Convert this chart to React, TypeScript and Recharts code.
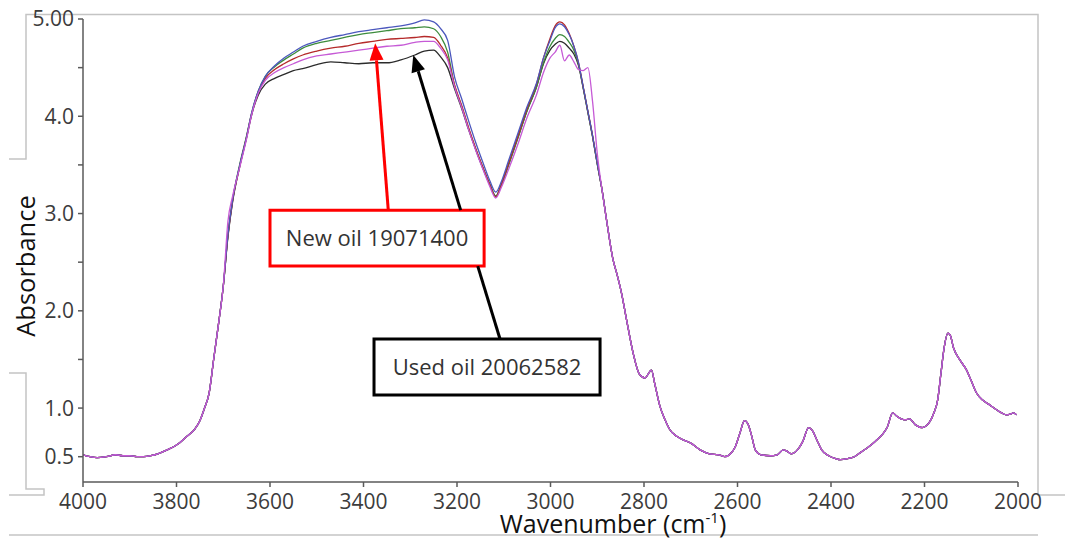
import React from 'react';
import { LineChart, Line, XAxis, YAxis, ReferenceArea, ReferenceLine } from 'recharts';

// Shared (overlapping) part on the high-wavenumber side
const wnLeft = [4000, 3985, 3970, 3950, 3930, 3915, 3900, 3885, 3870, 3855, 3840, 3820, 3800, 3780, 3760, 3750, 3740, 3730, 3720, 3710, 3700];
const absLeft = [0.52, 0.5, 0.49, 0.5, 0.52, 0.51, 0.51, 0.5, 0.5, 0.51, 0.53, 0.57, 0.62, 0.7, 0.79, 0.87, 1.0, 1.16, 1.52, 1.87, 2.25];

// Region where the five spectra separate
const wnMid = [3690, 3680, 3665, 3650, 3640, 3625,
  3610, 3590, 3570, 3550, 3530, 3500, 3470, 3440, 3410, 3380, 3350, 3320, 3290, 3270, 3250, 3235, 3220,
  3205, 3190, 3175, 3160, 3145, 3130, 3117, 3105, 3090, 3070, 3050, 3030, 3015,
  3001, 2990, 2980, 2970, 2960, 2950, 2940, 2930, 2920, 2910, 2900];
const blueMid = [2.78, 3.14, 3.49, 3.79, 4.02, 4.26,
  4.41, 4.52, 4.6, 4.66, 4.72, 4.77, 4.81, 4.84, 4.87, 4.89, 4.91, 4.93, 4.96, 4.99, 4.97, 4.9, 4.78,
  4.4, 4.18, 3.95, 3.73, 3.53, 3.34, 3.22, 3.33, 3.54, 3.82, 4.1, 4.34, 4.6,
  4.78, 4.91, 4.95, 4.92, 4.84, 4.72, 4.55, 4.3, 4.05, 3.8, 3.52];
const greenMid = [2.78, 3.14, 3.5, 3.8, 4.02, 4.26,
  4.41, 4.51, 4.58, 4.64, 4.7, 4.75, 4.78, 4.81, 4.84, 4.86, 4.88, 4.9, 4.91, 4.92, 4.9, 4.82, 4.66,
  4.31, 4.1, 3.87, 3.66, 3.47, 3.3, 3.18, 3.29, 3.49, 3.77, 4.06, 4.3, 4.55,
  4.72, 4.8, 4.84, 4.82, 4.76, 4.68, 4.53, 4.29, 4.04, 3.79, 3.51];
const redMid = [2.77, 3.13, 3.48, 3.79, 4.01, 4.25,
  4.39, 4.48, 4.54, 4.59, 4.63, 4.67, 4.7, 4.72, 4.75, 4.77, 4.79, 4.8, 4.81, 4.82, 4.81, 4.73, 4.6,
  4.32, 4.11, 3.88, 3.67, 3.48, 3.3, 3.17, 3.3, 3.51, 3.79, 4.08, 4.33, 4.6,
  4.8, 4.93, 4.97, 4.94, 4.85, 4.72, 4.55, 4.3, 4.05, 3.8, 3.52];
const magentaMid = [2.92, 3.18, 3.47, 3.77, 4.0, 4.24,
  4.37, 4.45, 4.5, 4.54, 4.58, 4.62, 4.64, 4.66, 4.68, 4.7, 4.72, 4.73, 4.76, 4.77, 4.77, 4.7, 4.58,
  4.3, 4.09, 3.86, 3.65, 3.46, 3.28, 3.16, 3.27, 3.45, 3.71, 3.99, 4.22, 4.45,
  4.6, 4.66, 4.73, 4.57, 4.63, 4.56, 4.48, 4.47, 4.5, 4.15, 3.62];
const blackMid = [2.76, 3.12, 3.48, 3.78, 4.0, 4.22,
  4.33, 4.39, 4.43, 4.47, 4.49, 4.53, 4.56, 4.55, 4.54, 4.55, 4.55, 4.58, 4.63, 4.67, 4.68, 4.61, 4.5,
  4.28, 4.08, 3.86, 3.66, 3.47, 3.3, 3.18, 3.3, 3.5, 3.78, 4.06, 4.3, 4.54,
  4.68, 4.74, 4.77, 4.75, 4.7, 4.64, 4.52, 4.29, 4.04, 3.79, 3.51];

// Shared (overlapping) part on the low-wavenumber side
const wnRight = [2890, 2880, 2866, 2858, 2848, 2837, 2823, 2810, 2798, 2784, 2777, 2766, 2755, 2745, 2730, 2715, 2700, 2680, 2660, 2640, 2627, 2615, 2605, 2595, 2585, 2578, 2570, 2562, 2550, 2530, 2515, 2502, 2495, 2485, 2470, 2460, 2448, 2440, 2430, 2420, 2405, 2390, 2380, 2365, 2350, 2335, 2320, 2305, 2290, 2280, 2268, 2260, 2250, 2240, 2232, 2220, 2205, 2190, 2180, 2172, 2165, 2158, 2150, 2145, 2138, 2125, 2110, 2100, 2088, 2075, 2060, 2045, 2035, 2025, 2015, 2010, 2003];
const absRight = [3.25, 2.93, 2.52, 2.38, 2.18, 1.9, 1.56, 1.35, 1.31, 1.39, 1.25, 1.02, 0.88, 0.78, 0.71, 0.67, 0.64, 0.57, 0.53, 0.52, 0.5, 0.53, 0.6, 0.74, 0.87, 0.84, 0.72, 0.57, 0.52, 0.51, 0.52, 0.57, 0.56, 0.53, 0.58, 0.66, 0.8, 0.77, 0.67, 0.57, 0.51, 0.48, 0.47, 0.48, 0.5, 0.55, 0.6, 0.66, 0.73, 0.8, 0.95, 0.92, 0.89, 0.88, 0.89, 0.83, 0.8, 0.85, 0.95, 1.08, 1.35, 1.62, 1.77, 1.75, 1.62, 1.5, 1.39, 1.28, 1.15, 1.08, 1.03, 0.98, 0.95, 0.93, 0.94, 0.95, 0.93];

const xTicks = [4000, 3800, 3600, 3400, 3200, 3000, 2800, 2600, 2400, 2200, 2000];
const yTicks = [0.5, 1, 1.5, 2, 2.5, 3, 3.5, 4, 4.5, 5];
const yTickLabels = ['0.5', '1.0', '', '2.0', '', '3.0', '', '4.0', '', '5.00'];

const seriesKeys = ['black', 'green', 'red', 'blue', 'magenta'];
const seriesColors = ['#2b2b2b', '#3d8c3d', '#b52a2a', '#4b57bd', '#c65ad6'];

const midByKey: Record<string, number[]> = {
  blue: blueMid, green: greenMid, red: redMid, magenta: magentaMid, black: blackMid,
};

const data: Record<string, number>[] = [];
wnLeft.forEach((wn, i) => {
  const row: Record<string, number> = { wn };
  seriesKeys.forEach((k) => (row[k] = absLeft[i]));
  data.push(row);
});
wnMid.forEach((wn, i) => {
  const row: Record<string, number> = { wn };
  seriesKeys.forEach((k) => (row[k] = midByKey[k][i]));
  data.push(row);
});
wnRight.forEach((wn, i) => {
  const row: Record<string, number> = { wn };
  seriesKeys.forEach((k) => (row[k] = absRight[i]));
  data.push(row);
});

const FONT = '"Open Sans", "Noto Sans", sans-serif';

const makeArrow = (color: string, withHead: boolean) => (props: any) => {
  const { x1, y1, x2, y2 } = props;
  if ([x1, y1, x2, y2].some((v) => typeof v !== 'number' || isNaN(v))) return <g />;
  const dx = x2 - x1;
  const dy = y2 - y1;
  const len = Math.sqrt(dx * dx + dy * dy) || 1;
  const ux = dx / len;
  const uy = dy / len;
  const L = withHead ? 17 : 0;
  const W = 7;
  const bx = x2 - ux * L;
  const by = y2 - uy * L;
  const nx = -uy;
  const ny = ux;
  return (
    <g>
      <line x1={x1} y1={y1} x2={bx} y2={by} stroke={color} strokeWidth={3} />
      {withHead && (
        <polygon
          points={`${x2},${y2} ${bx + nx * W},${by + ny * W} ${bx - nx * W},${by - ny * W}`}
          fill={color}
        />
      )}
    </g>
  );
};

export default function App() {
  const frame = '#c4c4c4';
  return (
    <div style={{ position: 'absolute', left: 0, top: 0, width: 1065, height: 540, background: '#fff' }}>
      <svg width={1065} height={540} style={{ position: 'absolute', left: 0, top: 0 }}>
        <g stroke={frame} strokeWidth={1.5} fill="none">
          <polyline points="9,159 26,159 26,14.5 1038,14.5 1038,495 1065,495" />
          <polyline points="9,373 26,373 26,489 44,489 44,495 9,495" />
          <line x1={9} y1={535} x2={1038} y2={535} />
        </g>
      </svg>
      <div style={{ position: 'absolute', left: 0, top: 0 }}>
        <LineChart width={1065} height={540} data={data} margin={{ top: 19, right: 47, bottom: 28, left: 23 }}>
          <XAxis
            dataKey="wn"
            type="number"
            domain={[2000, 4000]}
            reversed
            ticks={xTicks}
            allowDataOverflow
            height={30}
            tickSize={5}
            tickMargin={7}
            stroke="#5a5a5a"
            strokeWidth={1.5}
            tick={{ fill: '#3c3c3c', fontSize: 21, fontFamily: FONT }}
          />
          <YAxis
            type="number"
            domain={[0.24, 5]}
            ticks={yTicks}
            allowDataOverflow
            width={60}
            tickSize={5}
            tickMargin={4}
            stroke="#5a5a5a"
            strokeWidth={1.5}
            tickFormatter={(v: number) => {
              const i = yTicks.indexOf(v);
              return i >= 0 ? yTickLabels[i] : '';
            }}
            tick={{ fill: '#3c3c3c', fontSize: 21, fontFamily: FONT }}
          />
          {seriesKeys.map((k, i) => (
            <Line
              key={k}
              dataKey={k}
              type="monotone"
              stroke={seriesColors[i]}
              strokeWidth={1.3}
              dot={false}
              activeDot={false}
              isAnimationActive={false}
            />
          ))}
          <ReferenceLine
            segment={[{ x: 3108, y: 1.71 }, { x: 3155.6, y: 2.46 }]}
            shape={makeArrow('#000000', false)}
          />
          <ReferenceLine
            segment={[{ x: 3192.2, y: 3.035 }, { x: 3293.5, y: 4.63 }]}
            shape={makeArrow('#000000', true)}
          />
          <ReferenceLine
            segment={[{ x: 3347, y: 3.035 }, { x: 3375, y: 4.75 }]}
            shape={makeArrow('#ff0000', true)}
          />
          <ReferenceArea
            x1={3600}
            x2={3142}
            y1={2.46}
            y2={3.035}
            fill="#ffffff"
            fillOpacity={1}
            stroke="#ff0000"
            strokeWidth={3}
            label={{ value: 'New oil 19071400', position: 'center', fill: '#333333', fontSize: 22, fontFamily: FONT }}
          />
          <ReferenceArea
            x1={3377.5}
            x2={2894}
            y1={1.134}
            y2={1.71}
            fill="#ffffff"
            fillOpacity={1}
            stroke="#000000"
            strokeWidth={3}
            label={{ value: 'Used oil 20062582', position: 'center', fill: '#333333', fontSize: 22, fontFamily: FONT }}
          />
        </LineChart>
      </div>
      <svg width={1065} height={540} style={{ position: 'absolute', left: 0, top: 0, pointerEvents: 'none' }}>
        <text
          x={35}
          y={266}
          transform="rotate(-90 35 266)"
          textAnchor="middle"
          fontFamily={FONT}
          fontSize={25.5}
          fill="#111111"
        >
          Absorbance
        </text>
        <text x={613} y={533} textAnchor="middle" fontFamily={FONT} fontSize={25} fill="#111111">
          Wavenumber (cm
          <tspan dy={-10} fontSize={15}>-1</tspan>
          <tspan dy={10}>)</tspan>
        </text>
      </svg>
    </div>
  );
}
